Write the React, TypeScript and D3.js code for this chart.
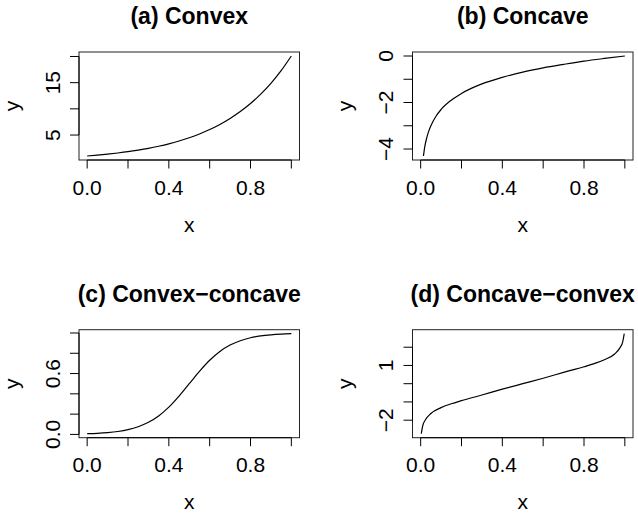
import React from "react";
import * as d3 from "d3";

// ---- data ----
const xTicks = [0, 0.2, 0.4, 0.6, 0.8, 1.0];
const xTickLabels = ["0.0", "", "0.4", "", "0.8", ""];

const convexX = [0, 0.05, 0.1, 0.15, 0.2, 0.25, 0.3, 0.35, 0.4, 0.45, 0.5, 0.55, 0.6, 0.65, 0.7, 0.75, 0.8, 0.85, 0.9, 0.95, 1.0];
const convexY = [1.0, 1.16, 1.35, 1.57, 1.82, 2.12, 2.46, 2.86, 3.32, 3.86, 4.48, 5.21, 6.05, 7.03, 8.17, 9.49, 11.02, 12.81, 14.88, 17.29, 20.09];
const convexYTicks = [5, 10, 15, 20];
const convexYLabels = ["5", "", "15", ""];

const concaveX = [0.0136, 0.02, 0.03, 0.04, 0.05, 0.075, 0.1, 0.15, 0.2, 0.3, 0.4, 0.5, 0.6, 0.7, 0.8, 0.9, 1.0];
const concaveY = [-4.3, -3.91, -3.51, -3.22, -3.0, -2.59, -2.3, -1.9, -1.61, -1.2, -0.92, -0.69, -0.51, -0.36, -0.22, -0.105, 0];
const concaveYTicks = [-4, -3, -2, -1, 0];
const concaveYLabels = ["\u22124", "", "\u22122", "", "0"];

const ccX = [0, 0.05, 0.1, 0.15, 0.2, 0.25, 0.3, 0.35, 0.4, 0.45, 0.5, 0.55, 0.6, 0.65, 0.7, 0.75, 0.8, 0.85, 0.9, 0.95, 1.0];
const ccY = [0.007, 0.011, 0.018, 0.029, 0.047, 0.076, 0.119, 0.182, 0.269, 0.378, 0.5, 0.622, 0.731, 0.818, 0.881, 0.924, 0.953, 0.971, 0.982, 0.989, 0.993];
const ccYTicks = [0, 0.2, 0.4, 0.6, 0.8, 1.0];
const ccYLabels = ["0.0", "", "", "0.6", "", ""];

const cvX = [0.003, 0.01, 0.025, 0.05, 0.1, 0.15, 0.2, 0.3, 0.4, 0.5, 0.6, 0.7, 0.8, 0.85, 0.9, 0.95, 0.975, 0.99, 0.997];
const cvY = [-2.74, -2.31, -1.95, -1.63, -1.31, -1.1, -0.93, -0.62, -0.3, 0, 0.3, 0.62, 0.93, 1.1, 1.31, 1.63, 1.95, 2.31, 2.74];
const cvYTicks = [-2, -1, 0, 1, 2];
const cvYLabels = ["\u22122", "", "", "1", ""];

const titles = ["(a) Convex", "(b) Concave", "(c) Convex\u2212concave", "(d) Concave\u2212convex"];

// ---- layout ----
const W = 638;
const H = 515;
const colLeft = [79, 412.5];
const rowTop = [52, 329.7];
const boxW = 220.5;
const boxH = 108;
const FONT = "'Liberation Sans', Arial, Helvetica, sans-serif";

type PanelProps = {
  left: number;
  top: number;
  title: string;
  xs: number[];
  ys: number[];
  yTicks: number[];
  yLabels: string[];
};

function pad(ext: [number, number]): [number, number] {
  const r = ext[1] - ext[0];
  return [ext[0] - 0.04 * r, ext[1] + 0.04 * r];
}

function Panel({ left, top, title, xs, ys, yTicks, yLabels }: PanelProps) {
  const xExt = pad([0, 1]);
  const yExt = pad(d3.extent(ys) as [number, number]);
  const x = d3.scaleLinear().domain(xExt).range([left, left + boxW]);
  const y = d3.scaleLinear().domain(yExt).range([top + boxH, top]);
  const pts = xs.map((v, i) => [v, ys[i]] as [number, number]);
  const line = d3
    .line<[number, number]>()
    .x((d) => x(d[0]))
    .y((d) => y(d[1]))
    .curve(d3.curveMonotoneX);
  const bottom = top + boxH;
  const tick = 8.5;
  return (
    <g>
      <text
        x={left + boxW / 2}
        y={top - 28}
        textAnchor="middle"
        fontFamily={FONT}
        fontWeight="bold"
        fontSize={23}
      >
        {title}
      </text>
      <rect x={left} y={top} width={boxW} height={boxH} fill="none" stroke="#222" strokeWidth={1} />
      {/* x axis */}
      <line x1={x(xTicks[0])} x2={x(xTicks[xTicks.length - 1])} y1={bottom} y2={bottom} stroke="#000" />
      {xTicks.map((t, i) => (
        <g key={"xt" + i}>
          <line x1={x(t)} x2={x(t)} y1={bottom} y2={bottom + tick} stroke="#000" />
          {xTickLabels[i] && (
            <text x={x(t)} y={bottom + 34.5} textAnchor="middle" fontFamily={FONT} fontSize={21}>
              {xTickLabels[i]}
            </text>
          )}
        </g>
      ))}
      {/* y axis */}
      <line x1={left} x2={left} y1={y(yTicks[0])} y2={y(yTicks[yTicks.length - 1])} stroke="#000" />
      {yTicks.map((t, i) => (
        <g key={"yt" + i}>
          <line x1={left - tick - 0.5} x2={left} y1={y(t)} y2={y(t)} stroke="#000" />
          {yLabels[i] && (
            <text
              transform={`translate(${left - 19.5},${y(t)}) rotate(-90)`}
              textAnchor="middle"
              fontFamily={FONT}
              fontSize={21}
            >
              {yLabels[i]}
            </text>
          )}
        </g>
      ))}
      <text x={left + boxW / 2} y={bottom + 71.5} textAnchor="middle" fontFamily={FONT} fontSize={21}>
        x
      </text>
      <text
        transform={`translate(${left - 60.5},${top + boxH / 2}) rotate(-90)`}
        textAnchor="middle"
        fontFamily={FONT}
        fontSize={21}
      >
        y
      </text>
      <path d={line(pts) || ""} fill="none" stroke="#000" strokeWidth={1.2} />
    </g>
  );
}

export default function App() {
  return (
    <svg
      width={W}
      height={H}
      style={{ position: "absolute", left: 0, top: 0, background: "#fff" }}
    >
      <rect x={0} y={0} width={W} height={H} fill="#fff" />
      <Panel left={colLeft[0]} top={rowTop[0]} title={titles[0]} xs={convexX} ys={convexY} yTicks={convexYTicks} yLabels={convexYLabels} />
      <Panel left={colLeft[1]} top={rowTop[0]} title={titles[1]} xs={concaveX} ys={concaveY} yTicks={concaveYTicks} yLabels={concaveYLabels} />
      <Panel left={colLeft[0]} top={rowTop[1]} title={titles[2]} xs={ccX} ys={ccY} yTicks={ccYTicks} yLabels={ccYLabels} />
      <Panel left={colLeft[1]} top={rowTop[1]} title={titles[3]} xs={cvX} ys={cvY} yTicks={cvYTicks} yLabels={cvYLabels} />
    </svg>
  );
}
